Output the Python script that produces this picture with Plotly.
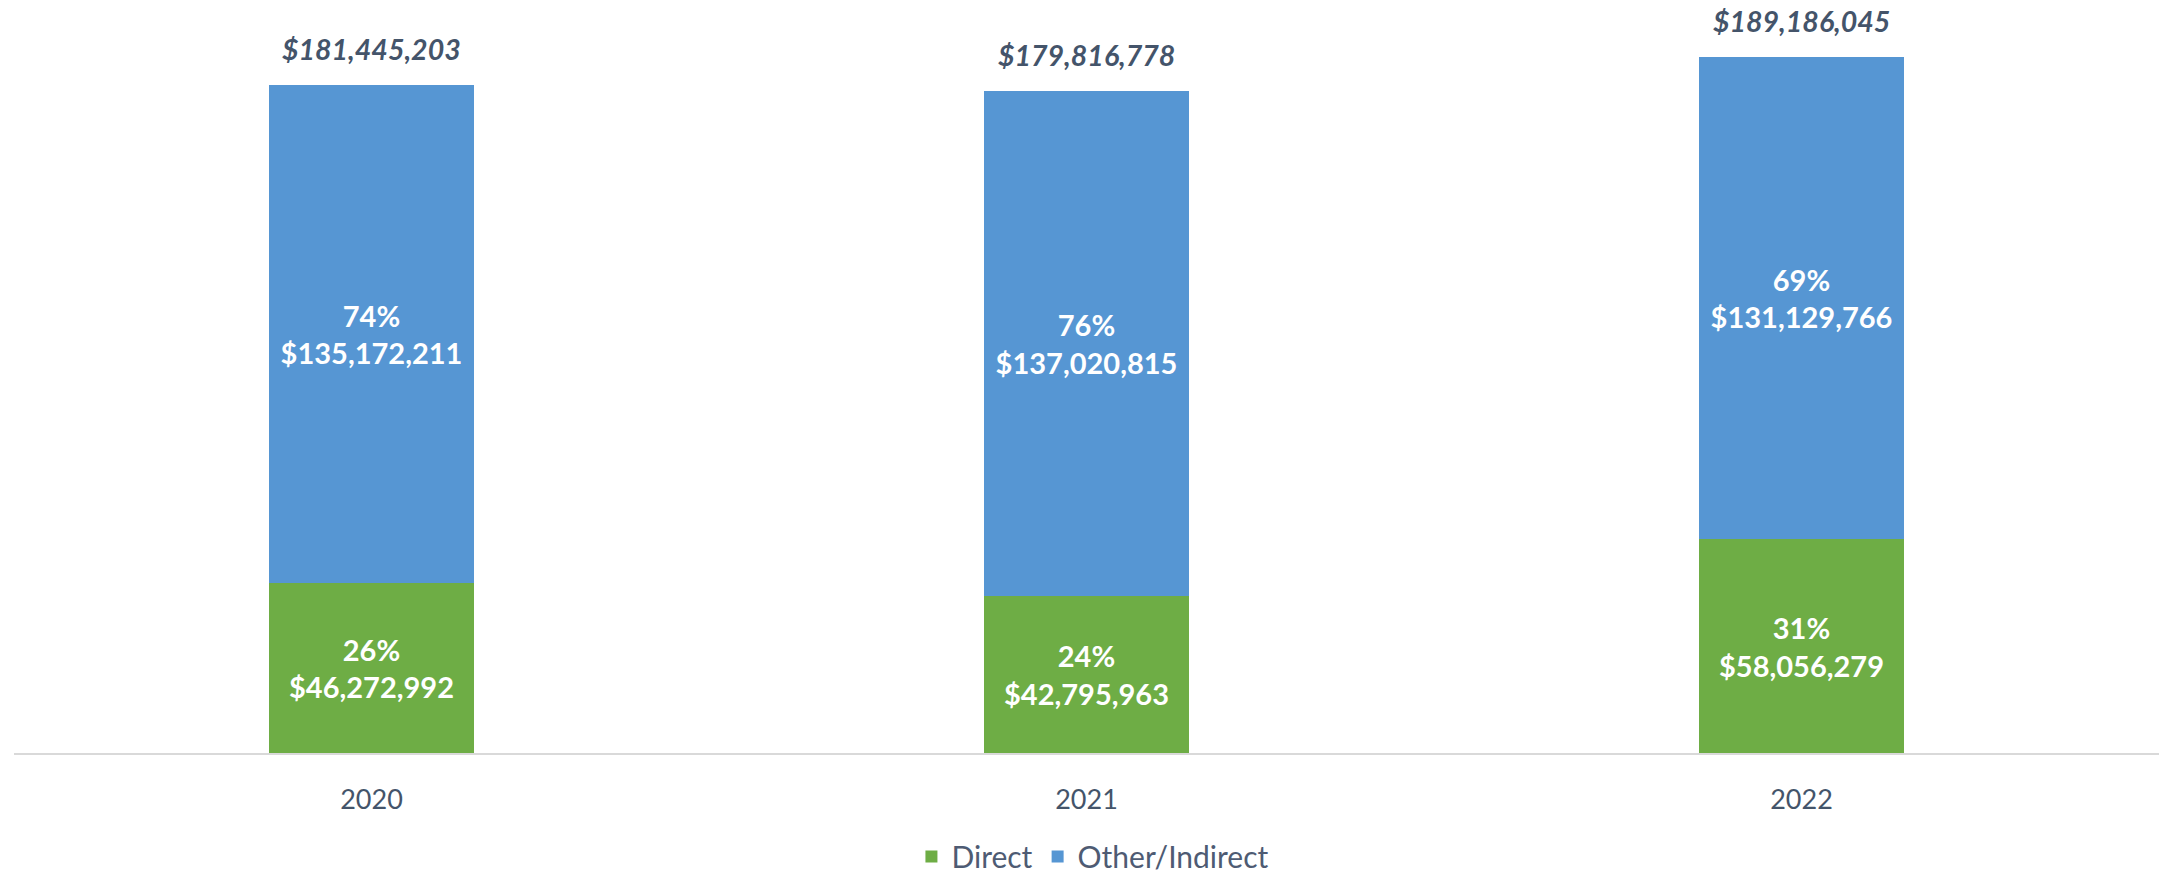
import plotly.graph_objects as go

# Funding by year, split into direct and other/indirect
years = ["2020", "2021", "2022"]
direct = [46272992, 42795963, 58056279]
indirect = [135172211, 137020815, 131129766]
totals = [d + i for d, i in zip(direct, indirect)]

direct_pct = [round(100 * d / t) for d, t in zip(direct, totals)]
indirect_pct = [round(100 * i / t) for i, t in zip(indirect, totals)]

FONT = "Lato"
GREEN = "#6EAD45"
BLUE = "#5696D3"
SLATE = "#44546A"


def money(v):
    return f"${v:,.0f}"


fig = go.Figure()

fig.add_trace(go.Bar(
    name="Direct",
    x=years,
    y=direct,
    marker=dict(color=GREEN, line=dict(width=0)),
    text=[f"<b>{p}%<br>{money(v)}</b>" for p, v in zip(direct_pct, direct)],
    textposition="inside",
    insidetextanchor="middle",
    textangle=0,
    constraintext="none",
    textfont=dict(family=FONT, size=29, color="white"),
    hoverinfo="skip",
))

fig.add_trace(go.Bar(
    name="Other/Indirect",
    x=years,
    y=indirect,
    marker=dict(color=BLUE, line=dict(width=0)),
    text=[f"<b>{p}%<br>{money(v)}</b>" for p, v in zip(indirect_pct, indirect)],
    textposition="inside",
    insidetextanchor="middle",
    textangle=0,
    constraintext="none",
    textfont=dict(family=FONT, size=29, color="white"),
    hoverinfo="skip",
))

# Totals above each stack (category axis: annotations use the category index)
for idx, tot in enumerate(totals):
    fig.add_annotation(
        x=idx, y=tot, xref="x", yref="y",
        text=f"<b><i>{money(tot)}</i></b>",
        showarrow=False, yanchor="bottom", yshift=17,
        font=dict(family=FONT, size=28.5, color=SLATE),
    )

fig.update_layout(
    width=2161, height=874,
    margin=dict(l=14, r=2, t=17, b=121),
    barmode="stack",
    bargap=0.714,
    plot_bgcolor="white",
    paper_bgcolor="white",
    font=dict(family=FONT, color=SLATE),
    showlegend=True,
    legend=dict(
        orientation="h",
        xref="paper", x=0.503, xanchor="center",
        yref="container", y=0.02, yanchor="middle",
        font=dict(family=FONT, size=30, color="#4E5B73"),
        itemsizing="constant",
        traceorder="normal",
    ),
    xaxis=dict(
        type="category",
        range=[-0.5, 2.5],
        showline=True, linecolor="#D9D9D9", linewidth=2,
        showgrid=False, ticks="",
        ticklabelstandoff=22,
        tickfont=dict(family=FONT, size=27, color=SLATE),
    ),
    yaxis=dict(
        range=[0, 200e6],
        visible=False,
        showgrid=False, zeroline=False,
    ),
)

fig.write_html("out.html")
